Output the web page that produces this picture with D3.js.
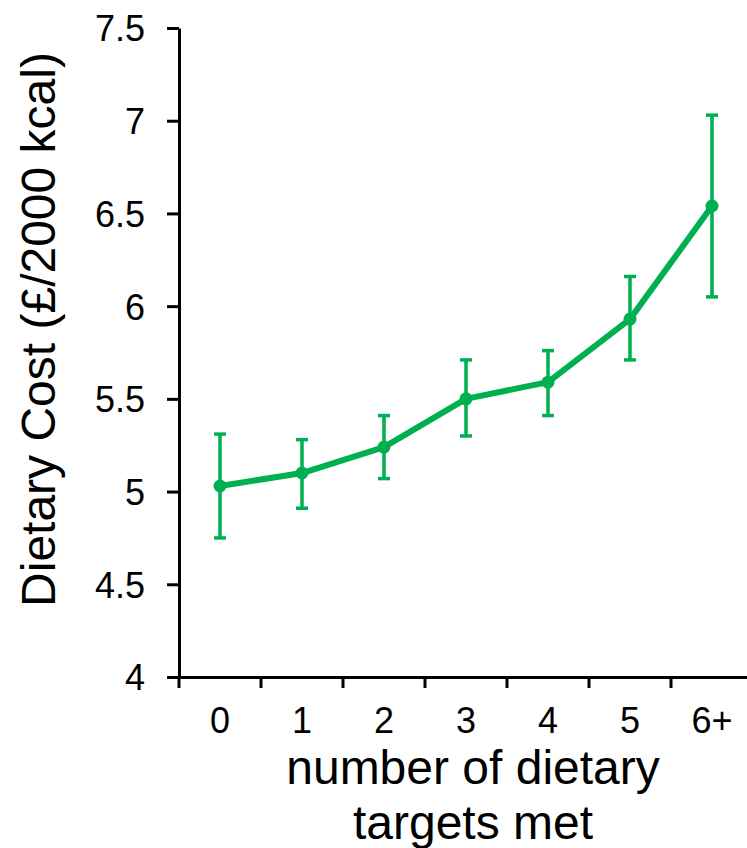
<!DOCTYPE html>
<html>
<head>
<meta charset="utf-8">
<script src="https://cdn.jsdelivr.net/npm/d3@7"></script>
<style>
  body { margin: 0; background: #fff; }
  text { font-family: "Liberation Sans", Arial, sans-serif; fill: #000; }
</style>
</head>
<body>
<div id="chart"></div>
<script>
(function(){
  // categories and values
  const categories = ["0", "1", "2", "3", "4", "5", "6+"];
  const meanCost = [5.03, 5.10, 5.24, 5.50, 5.59, 5.93, 6.54];
  const lowerCI = [4.75, 4.91, 5.07, 5.30, 5.41, 5.71, 6.05];
  const upperCI = [5.31, 5.28, 5.41, 5.71, 5.76, 6.16, 7.03];
  const yTicks = [4, 4.5, 5, 5.5, 6, 6.5, 7, 7.5];

  const width = 747, height = 848;
  const margin = { top: 28, right: -6, bottom: 171, left: 179 };
  const green = "#00B050";

  const svg = d3.select("#chart")
    .append("svg")
    .attr("width", width)
    .attr("height", height);

  const x = d3.scaleBand()
    .domain(categories)
    .range([margin.left, width - margin.right]);

  const y = d3.scaleLinear()
    .domain([4, 7.5])
    .range([height - margin.bottom, margin.top]);

  const rows = categories.map((c, i) => ({
    cat: c, mean: meanCost[i], lo: lowerCI[i], hi: upperCI[i]
  }));

  // y axis
  const yAxis = svg.append("g")
    .attr("transform", `translate(${margin.left},0)`)
    .call(d3.axisLeft(y).tickValues(yTicks).tickFormat(d => String(d)).tickSize(12).tickSizeOuter(0).tickPadding(22));
  yAxis.select(".domain").attr("stroke-width", 3);
  yAxis.selectAll(".tick line").attr("stroke-width", 3);
  yAxis.selectAll(".tick text").attr("font-size", 36).attr("dy", "0.36em");

  // x axis: labels centred, tick marks on band edges
  const xAxis = svg.append("g")
    .attr("transform", `translate(0,${y(4)})`)
    .call(d3.axisBottom(x).tickSize(0).tickPadding(30));
  xAxis.select(".domain").attr("stroke-width", 3);
  xAxis.selectAll(".tick text").attr("font-size", 36);

  const edges = categories.map(c => x(c)).concat([x.range()[1]]);
  xAxis.selectAll(".edge")
    .data(edges)
    .enter()
    .append("line")
    .attr("class", "edge")
    .attr("x1", d => d).attr("x2", d => d)
    .attr("y1", 0).attr("y2", 11)
    .attr("stroke", "#000")
    .attr("stroke-width", 3);

  // axis titles
  svg.append("text")
    .attr("transform", `translate(55,${(y(4) + y(7.5)) / 2 - 23}) rotate(-90)`)
    .attr("text-anchor", "middle")
    .attr("font-size", 48)
    .text("Dietary Cost (£/2000 kcal)");

  const xTitle = svg.append("text")
    .attr("text-anchor", "middle")
    .attr("font-size", 48);
  xTitle.append("tspan").attr("x", 473).attr("y", 784).text("number of dietary");
  xTitle.append("tspan").attr("x", 473).attr("y", 839).text("targets met");

  const cx = d => x(d.cat) + x.bandwidth() / 2;

  // error bars
  const err = svg.append("g")
    .attr("stroke", green)
    .attr("stroke-width", 3.5);
  err.selectAll(".whisker")
    .data(rows).enter().append("line")
    .attr("x1", cx).attr("x2", cx)
    .attr("y1", d => y(d.lo)).attr("y2", d => y(d.hi));
  err.selectAll(".cap-hi")
    .data(rows).enter().append("line")
    .attr("x1", d => cx(d) - 6).attr("x2", d => cx(d) + 6)
    .attr("y1", d => y(d.hi)).attr("y2", d => y(d.hi));
  err.selectAll(".cap-lo")
    .data(rows).enter().append("line")
    .attr("x1", d => cx(d) - 6).attr("x2", d => cx(d) + 6)
    .attr("y1", d => y(d.lo)).attr("y2", d => y(d.lo));

  // line + markers
  svg.append("path")
    .datum(rows)
    .attr("fill", "none")
    .attr("stroke", green)
    .attr("stroke-width", 6)
    .attr("stroke-linejoin", "round")
    .attr("d", d3.line().x(cx).y(d => y(d.mean)));

  svg.selectAll(".dot")
    .data(rows).enter().append("circle")
    .attr("cx", cx)
    .attr("cy", d => y(d.mean))
    .attr("r", 6.5)
    .attr("fill", green);
})();
</script>
</body>
</html>
